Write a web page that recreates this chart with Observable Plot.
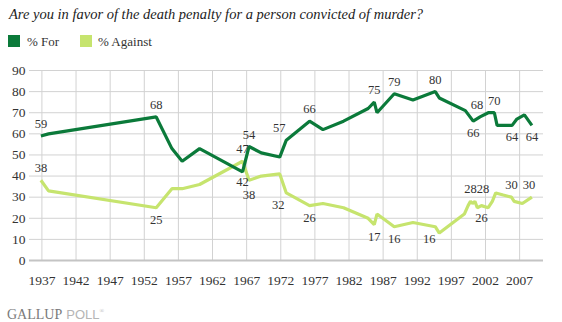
<!DOCTYPE html>
<html>
<head>
<meta charset="utf-8">
<script src="https://cdn.jsdelivr.net/npm/d3@7"></script>
<script src="https://cdn.jsdelivr.net/npm/@observablehq/plot@0.6"></script>
<style>
  html, body { margin: 0; padding: 0; background: #fff; }
  body { width: 562px; height: 322px; position: relative; overflow: hidden; font-family: "Liberation Serif", serif; color: #222; }
  #title { position: absolute; left: 9px; top: 6px; font-size: 14.5px; font-style: italic; line-height: 16px; white-space: nowrap; color: #222; }
  #legend { position: absolute; left: 8px; top: 34px; font-size: 13px; line-height: 15px; color: #333; }
  .sw { position: absolute; width: 12px; height: 12px; top: 1px; }
  .lt { position: absolute; top: 0; white-space: nowrap; }
  #chart { position: absolute; left: 0; top: 55px; }
  #brand { position: absolute; left: 7px; top: 303px; white-space: nowrap; line-height: 16px; }
  #brand .g { font-family: "Liberation Serif", serif; font-size: 14px; color: #7a7a7a; }
  #brand .p { font-family: "Liberation Sans", sans-serif; font-size: 13px; color: #b5b5b5; }
  #brand sup { font-size: 6px; color: #b5b5b5; }
</style>
</head>
<body>
<div id="title">Are you in favor of the death penalty for a person convicted of murder?</div>
<div id="legend">
  <span class="sw" style="left:0px;background:#0b7a3a"></span><span class="lt" style="left:19px">% For</span>
  <span class="sw" style="left:72px;background:#c6e46e"></span><span class="lt" style="left:90px">% Against</span>
</div>
<div id="chart"></div>
<div id="brand"><span class="g">GALLUP</span> <span class="p">POLL</span><sup>®</sup></div>
<script>
// ---- data ----
const forYears = [1936.85, 1937.97, 1953.75, 1956.05, 1957.55, 1960.1, 1966.4, 1967.35, 1969.14, 1971.85, 1972.81, 1976.22, 1978.18, 1981.2, 1984.8, 1985.7, 1986.1, 1988.63, 1991.37, 1994.64, 1995.23, 1999.05, 2000.2, 2001.2, 2002.4, 2003.3, 2003.7, 2005.9, 2006.6, 2007.7, 2008.8];
const forValues = [59, 60, 68, 53, 47, 53, 42, 54, 51, 49, 57, 66, 62, 66, 72, 75, 70, 79, 76, 80, 77, 71, 66, 68, 70, 70, 64, 64, 67, 69, 64];

const againstYears = [1936.85, 1937.97, 1953.75, 1956.05, 1957.55, 1960.1, 1966.4, 1967.35, 1969.14, 1971.85, 1972.81, 1976.22, 1978.18, 1981.2, 1984.8, 1985.7, 1986.1, 1988.63, 1991.37, 1994.64, 1995.23, 1998.9, 1999.45, 1999.8, 2000.1, 2000.45, 2000.8, 2001.4, 2002.4, 2003.0, 2003.5, 2004.6, 2005.8, 2006.2, 2007.4, 2008.8];
const againstValues = [38, 33, 25, 34, 34, 36, 47, 38, 40, 41, 32, 26, 27, 25, 20, 17, 22, 16, 18, 16, 13, 22, 26, 28, 27, 28, 25, 26, 25, 28, 32, 31, 30, 28, 27, 30];

const labelYears  = [1936.85, 1953.75, 1967.35, 1972.81, 1976.22, 1985.7, 1988.63, 1994.64, 2000.2, 2001.2, 2003.3, 2005.9, 2008.8, 1966.4,
                     1936.85, 1953.75, 1966.4, 1967.35, 1972.81, 1976.22, 1985.7, 1988.63, 1994.64, 1999.8, 2000.45, 2001.4, 2005.8, 2008.8];
const labelValues = [59, 68, 54, 57, 66, 75, 79, 80, 66, 68, 70, 64, 64, 42,
                     38, 25, 47, 38, 32, 26, 17, 16, 16, 28, 28, 26, 30, 30];
const labelSides  = ["above","above","above","above","above","above","above","above","below","above","above","below","below","below",
                     "above","below","above","below","below","below","below","below","below","above","above","below","above","above"];

const xTicks = [1937, 1942, 1947, 1952, 1957, 1962, 1967, 1972, 1977, 1982, 1987, 1992, 1997, 2002, 2007];
const yTicks = [0, 10, 20, 30, 40, 50, 60, 70, 80, 90];

// ---- build ----
const forData = forYears.map((x, i) => ({x, y: forValues[i]}));
const againstData = againstYears.map((x, i) => ({x, y: againstValues[i]}));
// small placement tweaks (pixels) so labels sit where the original puts them
const labelNudgeX = {3: -7, 9: -3, 18: -8, 22: -6, 24: 8, 27: -3};
const labelNudgeY = {13: -2, 17: 3};
const labels = labelYears.map((x, i) => ({
  x, y: labelValues[i],
  dx: labelNudgeX[i] || 0,
  dy: (labelSides[i] === "above" ? -12 : 12) + (labelNudgeY[i] || 0)
}));

// group labels by offsets (Plot's dx/dy are constants per mark)
const groups = d3.groups(labels, d => d.dx + "|" + d.dy);
const labelMarks = groups.map(([key, rows]) => {
  const [dx, dy] = key.split("|").map(Number);
  return Plot.text(rows, {x: "x", y: "y", text: d => String(d.y), dx, dy,
    fontSize: 12.5, fill: "#333", lineAnchor: "middle", textAnchor: "middle"});
});

const FOR = "#0b7a3a", AGAINST = "#c6e46e";

const chart = Plot.plot({
  width: 562,
  height: 245,
  marginTop: 15,
  marginLeft: 29,
  marginRight: 19,
  marginBottom: 40,
  style: {fontFamily: "'Liberation Serif', serif", fontSize: "13px", color: "#333", background: "transparent"},
  x: {domain: [1935.18, 2010.5]},
  y: {domain: [0, 90]},
  marks: [
    Plot.gridY(yTicks, {stroke: "#d2d2d2", strokeOpacity: 1, strokeWidth: 1}),
    Plot.gridX(xTicks, {stroke: "#d2d2d2", strokeOpacity: 1, strokeWidth: 1}),
    Plot.ruleY([0], {stroke: "#c4c4c4", strokeWidth: 2}),
    Plot.axisX(xTicks, {tickSize: 0, tickPadding: 15, tickFormat: d => String(d), fontSize: 13.5, fill: "#333", label: null}),
    Plot.axisY(yTicks, {tickSize: 0, tickPadding: 4, fontSize: 13.5, fill: "#333", label: null}),
    Plot.line(againstData, {x: "x", y: "y", stroke: AGAINST, strokeWidth: 3.2, strokeLinejoin: "miter", strokeLinecap: "butt"}),
    Plot.line(forData, {x: "x", y: "y", stroke: FOR, strokeWidth: 3.2, strokeLinejoin: "miter", strokeLinecap: "butt"}),
    ...labelMarks
  ]
});
document.getElementById("chart").appendChild(chart);
</script>
</body>
</html>
